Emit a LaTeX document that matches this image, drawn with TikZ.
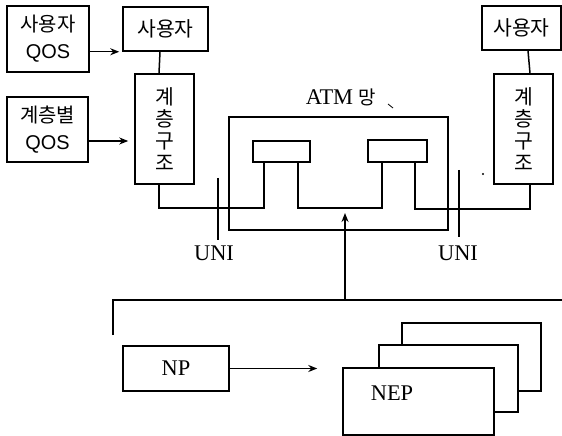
\documentclass[tikz,border=0pt]{standalone}
\usepackage{fontspec}
\setmainfont{Liberation Serif}
\newfontfamily\krfont{Noto Sans CJK KR}
\newfontfamily\qosfont{Liberation Sans}
\usetikzlibrary{positioning,arrows.meta,calc}
\tikzset{
  >=Stealth,
  every node/.style={font=\fontsize{22.5}{24}\selectfont},
  % --- nodes
  mod/.style   = {draw, line width=1.5bp, fill=white, align=center, inner sep=0pt},
  qbox/.style  = {mod, font=\fontsize{20}{27}\selectfont},
  ubox/.style  = {mod, font=\fontsize{20.5}{22}\krfont},
  lay/.style   = {mod, font=\fontsize{20.5}{22}\krfont},
  lbl/.style   = {inner sep=0pt},
  % --- edges
  e/.style     = {-{Stealth[length=9bp,width=7bp]}, line width=1.5bp},
  ln/.style    = {line width=1.5bp},
}
\begin{document}
\begin{tikzpicture}[x=1bp, y=-1bp]
  \useasboundingbox (0,0) rectangle (562,436);
  % user side
  \node[qbox, minimum width=82bp, minimum height=66bp] (uqos) at (48,39) {{\krfont 사용자}\\{\qosfont QOS}};
  \node[qbox, minimum width=81bp, minimum height=65bp] (lqos) at (47.5,129.5) {{\krfont 계층별}\\{\qosfont QOS}};
  \node[ubox, minimum width=85bp, minimum height=44bp] (user1) at (165.5,29) {사용자};
  \node[lay, minimum width=59bp, minimum height=110bp] (layer1) at (164.5,129) {계\\층\\구\\조};
  \node[ubox, minimum width=79bp, minimum height=44bp] (user2) at (521.5,28) {사용자};
  \node[lay, minimum width=59bp, minimum height=110bp] (layer2) at (523.5,129) {계\\층\\구\\조};
  % ATM network
  \node[mod, fill=none, minimum width=219bp, minimum height=113bp] (atm) at (338.5,173.5) {};
  \node[lbl] (atmlbl) at (341,97) {ATM {\krfont\fontsize{19}{21}\selectfont 망}};
  \node[mod, minimum width=57bp, minimum height=21bp] (in1) at (281.5,151.5) {};
  \node[mod, minimum width=59bp, minimum height=22bp] (in2) at (397.5,151) {};
  \node[lbl] (uni1) at (214,253) {UNI}; \node[lbl] (uni2) at (458,253) {UNI};
  % management plane
  \node[mod, minimum width=106bp, minimum height=45bp] (np) at (176,368.5) {NP};
  \node[mod, minimum width=139bp, minimum height=68bp] (nepC) at (471.5,357) {};
  \node[mod, minimum width=139bp, minimum height=67bp] (nepB) at (448.5,378.5) {};
  \node[mod, minimum width=151bp, minimum height=67bp] (nepA) at (418.5,401.5) {};
  \node[lbl] (nep) at (392,393) {NEP};
  \coordinate (tap) at (345,300); \coordinate (busL) at (113,335); \coordinate (busR) at (562,300);
  \draw[e] (uqos.east |- user1.south west) -- ([xshift=-3bp]user1.south west);
  \draw[e] (lqos.east |- 0,141) -- ([xshift=-6bp]layer1.west |- 0,141);
  \draw[ln] ([xshift=-5.5bp]user1.south) -- ([xshift=-5.5bp]layer1.north);
  \draw[ln] ([xshift=6.5bp]user2.south) -- ([xshift=6.5bp]layer2.north);
  \draw[ln] ([xshift=-5.5bp]layer1.south) |- (264,208) -- (264,208 |- in1.south);
  \draw[ln] ([xshift=16.5bp]in1.south) |- (382,208) -- (382,208 |- in2.south);
  \draw[ln] ([xshift=17.5bp]in2.south) |- (530,209) -- (530,209 |- layer2.south);
  \draw[ln] (218,178) -- (218,240); \draw[ln] (459,170) -- (459,237);
  \draw[ln] (busL) |- (busR); \draw[e] (tap) -- (tap |- 0,213);
  \draw[e] (np.east) -- ([xshift=-25bp]nepA.west |- np.east);
  \draw[line width=0.8bp] (388,104) -- (393,108); \fill (483,174) circle (1.2bp);
\end{tikzpicture}
\end{document}
